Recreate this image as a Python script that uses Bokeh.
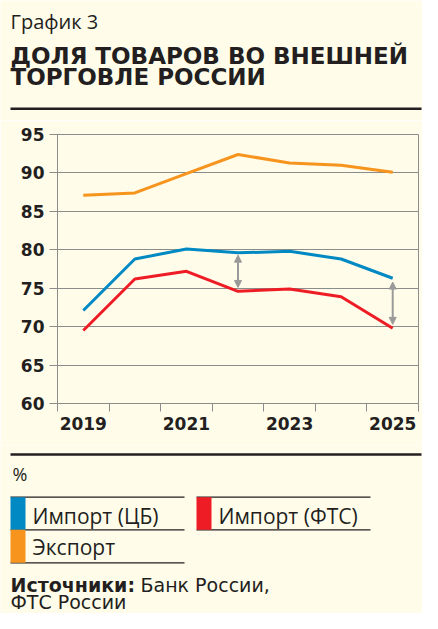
from bokeh.plotting import figure
from bokeh.models import Range1d, FixedTicker, ColumnDataSource, Arrow, NormalHead
from bokeh.embed import file_html
from bokeh.resources import INLINE
from bokeh.core.properties import value

# ---------------- data ----------------
years = [2019, 2020, 2021, 2022, 2023, 2024, 2025]
import_cb = [72.1, 78.8, 80.1, 79.6, 79.8, 78.8, 76.3]
import_fts = [69.5, 76.2, 77.2, 74.6, 74.9, 73.9, 69.8]
export = [87.1, 87.4, 89.9, 92.4, 91.3, 91.0, 90.1]
y_ticks = [60, 65, 70, 75, 80, 85, 90, 95]
x_label_years = [2019, 2021, 2023, 2025]
gap_years = [2022, 2025]
gap_top = [79.3, 75.8]
gap_bottom = [75.1, 70.3]

subtitle = "График 3"
title_lines = ["ДОЛЯ ТОВАРОВ ВО ВНЕШНЕЙ", "ТОРГОВЛЕ РОССИИ"]
unit_label = "%"
series_names = ["Импорт (ЦБ)", "Импорт (ФТС)", "Экспорт"]
source_bold = "Источники:"
source_rest = ["Банк России,", "ФТС России"]

# ---------------- style ----------------
BG = "#FFFCEA"
INK = "#231F20"
GRID = "#8C8C8C"
ARROW = "#9A9A9A"
C_CB = "#0089C2"
C_FTS = "#EE1C25"
C_EXP = "#F7941D"
REG = "Open Sans"
WIDE = "DejaVu Sans"
W = 422


def blank(h):
    f = figure(width=W, height=h, x_range=Range1d(0, W), y_range=Range1d(h, 0),
               output_backend="svg", toolbar_location=None, min_border=0,
               min_border_left=0, min_border_right=0, min_border_top=0, min_border_bottom=0,
               x_axis_type=None, y_axis_type=None)
    f.grid.visible = False
    f.outline_line_color = None
    f.background_fill_color = BG
    f.border_fill_color = BG
    return f


def txt(f, x, y, s, font, size, bold=False):
    # y is the wanted baseline; compensate the renderer's baseline offset
    f.text(x=[x], y=[y - 0.32 * size], text=[s], text_font=value(font),
           text_font_size=f"{size}px", text_font_style="bold" if bold else "normal",
           text_color=INK, text_baseline="alphabetic", text_align="left")


# ---------------- header (canvas y = reference y) ----------------
H1 = 120
head = blank(H1)
txt(head, 10, 27.3, subtitle, REG, 20)
txt(head, 10, 62.7, title_lines[0], WIDE, 23, bold=True)
txt(head, 10, 84.2, title_lines[1], WIDE, 23, bold=True)
head.segment(x0=[10], y0=[108.3], x1=[421], y1=[108.3], line_color=INK, line_width=2.5)

# ---------------- chart (reference y 120..445) ----------------
H2 = 325
p = figure(width=W, height=H2, x_range=Range1d(2018.5, 2025.5), y_range=Range1d(60, 95),
           output_backend="svg", toolbar_location=None,
           min_border_left=57, min_border_right=4, min_border_top=14, min_border_bottom=42)
p.background_fill_color = BG
p.border_fill_color = BG
p.outline_line_color = GRID
p.outline_line_width = 1

p.line(years, export, line_color=C_EXP, line_width=3)
p.line(years, import_cb, line_color=C_CB, line_width=3)
p.line(years, import_fts, line_color=C_FTS, line_width=3)

asrc = ColumnDataSource(dict(x=gap_years, y0=gap_bottom, y1=gap_top))
p.add_layout(Arrow(source=asrc, x_start="x", y_start="y0", x_end="x", y_end="y1",
                   line_color=ARROW, line_width=2,
                   start=NormalHead(size=7, fill_color=ARROW, line_color=ARROW),
                   end=NormalHead(size=7, fill_color=ARROW, line_color=ARROW)))

xa = p.xaxis[0]
xa.ticker = FixedTicker(ticks=x_label_years,
                        minor_ticks=[y - 0.5 for y in years] + [years[-1] + 0.5])
xa.major_tick_line_color = None
xa.major_tick_out = 8
xa.major_tick_in = 0
xa.minor_tick_line_color = GRID
xa.minor_tick_out = 8
xa.minor_tick_in = 0
xa.axis_line_color = GRID
xa.major_label_standoff = 5

ya = p.yaxis[0]
ya.ticker = FixedTicker(ticks=y_ticks, minor_ticks=[])
ya.major_tick_line_color = GRID
ya.major_tick_out = 8
ya.major_tick_in = 0
ya.axis_line_color = GRID
ya.major_label_standoff = 5

for ax in (xa, ya):
    ax.major_label_text_font = WIDE
    ax.major_label_text_font_style = "bold"
    ax.major_label_text_font_size = "17px"
    ax.major_label_text_color = INK

p.xgrid.visible = False
p.ygrid.ticker = FixedTicker(ticks=y_ticks)
p.ygrid.grid_line_color = GRID
p.ygrid.grid_line_width = 1

# ---------------- footer (canvas y = reference y - 445) ----------------
H3 = 168
foot = blank(H3)
foot.segment(x0=[10], y0=[9], x1=[421], y1=[9], line_color=INK, line_width=2.5)
txt(foot, 12, 34, unit_label, REG, 18)

foot.segment(x0=[10, 10, 10, 196, 196], y0=[51.7, 84.3, 117.3, 51.7, 84.3],
             x1=[184, 184, 184, 370, 370], y1=[51.7, 84.3, 117.3, 51.7, 84.3],
             line_color=INK, line_width=1.3)
foot.quad(left=[10, 196, 10], right=[25, 211, 25], top=[51.7, 51.7, 84.3],
          bottom=[84.3, 84.3, 117.3], fill_color=[C_CB, C_FTS, C_EXP], line_color=None)
foot.text(x=[32, 218, 32], y=[76.7 - 6.7, 76.7 - 6.7, 108.3 - 6.7], text=series_names,
          text_font=value(REG), text_font_size="21px", text_color=INK,
          text_baseline="alphabetic")

txt(foot, 10, 146, source_bold, WIDE, 19, bold=True)
txt(foot, 140, 146, source_rest[0], WIDE, 19)
txt(foot, 10, 162.5, source_rest[1], WIDE, 19)

open("out.html", "w").write(file_html([head, p, foot], INLINE))
